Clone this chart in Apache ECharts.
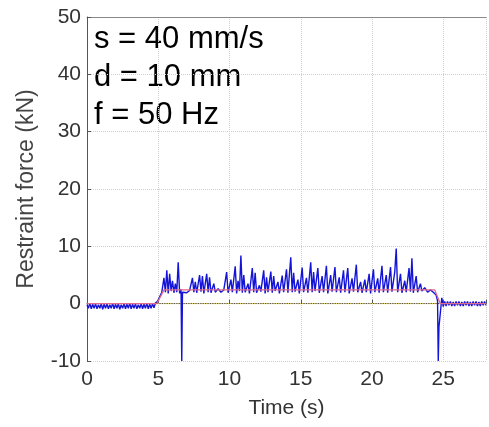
<!DOCTYPE html>
<html><head><meta charset="utf-8">
<script src="https://cdn.jsdelivr.net/npm/echarts@6/dist/echarts.min.js"></script>
<style>html,body{margin:0;padding:0;background:#fff}#c{width:489px;height:427px}</style>
</head><body><div id="c"></div>
<script>
const xTicks = [0, 5, 10, 15, 20, 25];
const yTicks = [-10, 0, 10, 20, 30, 40, 50];
const annotations = ['s = 40 mm/s', 'd = 10 mm', 'f = 50 Hz'];
// measured restraint force (kN) vs time (s)
const measured = [
[0,-0.2],[0.1,-0.8],[0.2,0.1],[0.3,-0.9],[0.4,-0.1],[0.5,-0.8],[0.6,0.0],[0.7,-0.9],[0.8,-0.2],[0.9,-0.8],[1.0,0.0],[1.1,-1.0],[1.2,-0.1],[1.3,-0.8],[1.4,0.0],[1.5,-0.9],[1.6,-0.2],[1.7,-0.8],[1.8,0.1],[1.9,-0.9],[2.0,-0.1],[2.1,-0.8],[2.2,0.0],[2.3,-1.0],[2.4,-0.2],[2.5,-0.8],[2.6,0.0],[2.7,-0.9],[2.8,-0.1],[2.9,-0.8],[3.0,0.1],[3.1,-0.9],[3.2,-0.1],[3.3,-0.8],[3.4,0.0],[3.5,-0.9],[3.6,-0.2],[3.7,-0.8],[3.8,0.0],[3.9,-0.9],[4.0,-0.1],[4.1,-0.8],[4.2,0.1],[4.3,-0.9],[4.4,-0.1],[4.5,-0.8],[4.6,0.0],[4.7,-0.7],[4.8,0.1],[4.95,0.4],[5.1,1.2],[5.25,2.0],
[5.3,2.0],[5.4,4.5],[5.5,2.0],[5.6,5.8],[5.7,1.8],[5.8,5.2],[5.9,2.2],[6.0,4.0],[6.1,1.9],[6.2,3.5],[6.3,2.0],[6.4,7.2],[6.5,1.8],[6.6,2.5],[6.65,-10],[6.7,2.0],[6.8,2.2],[7.0,1.9],[7.2,2.3],[7.4,4.5],[7.5,2.0],[7.6,3.8],[7.7,1.9],[7.9,5.0],[8.0,2.1],[8.1,4.8],[8.2,1.8],[8.4,5.2],[8.5,2.0],[8.6,4.6],[8.7,1.9],[8.9,3.5],[9.0,2.0],[9.2,2.6],[9.4,2.0],[9.6,2.4],[9.8,5.5],[9.9,1.9],[10.1,4.2],[10.2,2.0],[10.4,6.5],[10.5,1.8],[10.6,4.0],[10.7,2.2],[10.8,8.4],[10.9,1.9],[11.0,5.0],[11.1,2.0],[11.3,3.5],[11.4,1.8],[11.6,6.2],[11.7,2.0],[11.8,5.4],[11.9,1.9],[12.1,3.2],[12.2,2.1],[12.4,5.8],[12.5,1.8],[12.6,4.6],[12.7,2.0],[12.9,5.6],[13.0,1.9],[13.1,4.8],[13.2,2.2],[13.4,3.8],[13.5,1.8],[13.7,4.9],[13.8,2.0],[14.0,6.0],[14.1,1.9],[14.3,8.1],[14.4,2.0],[14.5,5.4],[14.6,2.1],[14.8,4.2],[14.9,1.8],[15.1,6.3],[15.2,2.0],[15.4,4.5],[15.5,1.9],[15.7,7.2],[15.8,2.0],[15.9,5.5],[16.0,2.2],[16.2,6.2],[16.3,1.9],[16.5,4.8],[16.6,2.0],[16.8,6.6],[16.9,1.8],[17.1,5.0],[17.2,2.1],[17.4,6.4],[17.5,2.0],[17.7,4.6],[17.8,1.9],[18.0,5.8],[18.1,2.0],[18.3,6.2],[18.4,1.8],[18.6,4.4],[18.7,2.1],[18.9,6.8],[19.0,2.0],[19.2,3.8],[19.3,1.9],[19.5,4.2],[19.6,2.0],[19.8,5.2],[19.9,1.8],[20.1,6.0],[20.2,2.0],[20.4,4.4],[20.5,1.9],[20.7,6.6],[20.8,2.0],[21.0,5.0],[21.1,1.9],[21.3,6.4],[21.4,2.1],[21.6,5.6],[21.7,9.6],[21.8,2.0],[22.0,5.2],[22.1,1.9],[22.3,4.0],[22.4,2.0],[22.6,6.2],[22.7,2.1],[22.8,7.9],[22.9,1.9],[23.1,4.8],[23.2,2.0],[23.4,3.5],[23.5,2.2],[23.7,2.8],[23.9,2.0],[24.1,2.4],[24.3,2.0],[24.5,1.5],[24.6,0.5],[24.65,-10],[24.7,-4],[24.8,-1.5],[24.9,1.0],[25.0,-0.5],
[25.1,0.4],[25.2,-0.4],[25.3,0.4],[25.4,-0.3],[25.5,0.4],[25.6,-0.4],[25.7,0.3],[25.8,-0.4],[25.9,0.4],[26.0,-0.3],[26.1,0.4],[26.2,-0.4],[26.3,0.3],[26.4,-0.4],[26.5,0.4],[26.6,-0.3],[26.7,0.4],[26.8,-0.4],[26.9,0.3],[27.0,-0.4],[27.1,0.4],[27.2,-0.3],[27.3,0.4],[27.4,-0.4],[27.5,0.3],[27.6,-0.4],[27.7,0.4],[27.8,-0.3],[27.9,0.4],[28,-0.3]
];
const meanForce = [[0,0],[4.9,0],[5.4,2.4],[24.4,2.4],[24.8,0],[28,0]];
const zeroRef = [[5,0],[25,0]];

const chart = echarts.init(document.getElementById('c'), null, {renderer:'canvas'});
const font = '"Liberation Sans", Arial, sans-serif';
chart.setOption({
  animation:false,
  backgroundColor:'#fff',
  grid:{left:87, right:0, top:17, bottom:66},
  xAxis:[{
    type:'value', min:0, max:28, interval:5,
    axisLine:{show:true, lineStyle:{color:'#555', width:1}},
    axisTick:{inside:true, length:4, lineStyle:{color:'#555'}},
    axisLabel:{fontFamily:font, fontSize:21, color:'#333', margin:8,
      formatter:v => xTicks.includes(v) ? String(v) : ''},
    splitLine:{show:true, lineStyle:{color:'#cfcfcf', type:'dotted', width:1}},
    name:'Time (s)', nameLocation:'middle', nameGap:37,
    nameTextStyle:{fontFamily:font, fontSize:21, color:'#333'}
  },{
    type:'value', min:0, max:28, position:'top',
    axisLine:{show:true, lineStyle:{color:'#888', width:1}},
    axisTick:{show:false}, axisLabel:{show:false}, splitLine:{show:false}
  }],
  yAxis:{
    type:'value', min:-10, max:50, interval:10,
    axisLine:{show:true, lineStyle:{color:'#555', width:1}},
    axisTick:{inside:true, length:4, lineStyle:{color:'#555'}},
    axisLabel:{fontFamily:font, fontSize:21, color:'#333', margin:6,
      formatter:v => yTicks.includes(v) ? String(v) : ''},
    splitLine:{show:true, lineStyle:{color:'#cfcfcf', type:'dotted', width:1}},
    name:'Restraint force (kN)', nameLocation:'middle', nameGap:49,
    nameTextStyle:{fontFamily:font, fontSize:23, color:'#444'}
  },
  series:[
    {type:'line', data:zeroRef, symbol:'none', lineStyle:{color:'#e6d36a', width:1.2, type:'dotted'}, z:1},
    {type:'line', data:measured, symbol:'none', lineStyle:{color:'#1414d8', width:1.4}, z:2},
    {type:'line', data:meanForce, symbol:'none', lineStyle:{color:'#e06a8a', width:1.3}, z:3}
  ],
  graphic: annotations.map((t,i)=>({
    type:'text', left:94, top:24 + i*38,
    style:{text:t, fontFamily:font, fontSize:31, fill:'#000'}
  }))
});
</script></body></html>
